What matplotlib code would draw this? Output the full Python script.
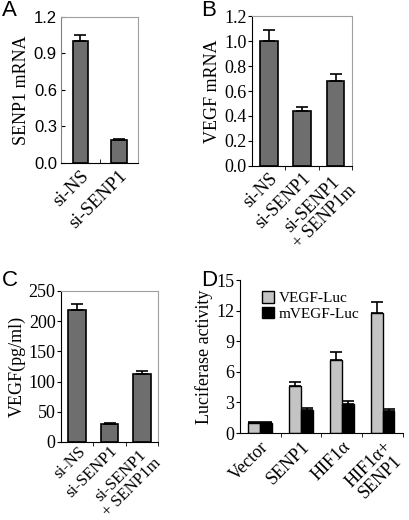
import numpy as np
import matplotlib
matplotlib.use("Agg")
import matplotlib.pyplot as plt

# panel A
a_labels = ["si-NS", "si-SENP1"]
a_vals = [1.0, 0.19]
a_err = [0.05, 0.01]

# panel B
b_labels = ["si-NS", "si-SENP1", "si-SENP1\n+ SENP1m"]
b_vals = [1.0, 0.44, 0.68]
b_err = [0.09, 0.03, 0.06]

# panel C
c_labels = ["si-NS", "si-SENP1", "si-SENP1\n+ SENP1m"]
c_vals = [219, 30, 112]
c_err = [9, 2, 5]

# panel D
d_labels = ["Vector", "SENP1", "HIF1α", "HIF1α+\nSENP1"]
d_vegf = [1.0, 4.6, 7.2, 11.8]
d_vegf_err = [0.1, 0.4, 0.7, 1.1]
d_mvegf = [1.0, 2.3, 2.8, 2.2]
d_mvegf_err = [0.1, 0.2, 0.3, 0.2]

plt.rcParams["font.family"] = "Liberation Serif"
bar_color = "#6e6e6e"
frame_gray = "#a0a0a0"
tick_fs = 13
xlab_fs = 13.5
ylab_fs = 13

fig = plt.figure(figsize=(4.1, 5.2), dpi=100)


def excel_frame(ax):
    ax.spines["top"].set_color(frame_gray)
    ax.spines["right"].set_color(frame_gray)
    ax.spines["left"].set_color("black")
    ax.spines["bottom"].set_color("black")
    ax.tick_params(axis="y", direction="out", length=3, labelsize=tick_fs, pad=1)
    ax.tick_params(axis="x", which="major", length=0, pad=3)
    ax.tick_params(axis="x", which="minor", direction="out", length=3)


def simple_bars(ax, labels, vals, err, width=0.5, fs=xlab_fs):
    x = np.arange(len(labels))
    ax.bar(x, vals, width=width, color=bar_color, edgecolor="black", linewidth=1.2, zorder=2)
    ax.errorbar(x, vals, yerr=[np.zeros(len(err)), err], fmt="none", ecolor="black",
                elinewidth=1.2, capsize=4, capthick=1.2, zorder=3)
    ax.set_xlim(-0.5, len(labels) - 0.5)
    ax.set_xticks(x)
    ax.set_xticklabels(labels, rotation=45, ha="right", rotation_mode="anchor",
                       linespacing=1.0, multialignment="center", fontsize=fs)


# A
axA = fig.add_axes([0.149, 0.6865, 0.188, 0.2815])
simple_bars(axA, a_labels, a_vals, a_err, width=0.4)
axA.set_ylim(0, 1.2)
axA.set_yticks(np.arange(0, 1.21, 0.3))
axA.set_yticklabels([f"{v:.1f}" for v in np.arange(0, 1.21, 0.3)],
                    family="Liberation Sans", fontsize=12)
for s in axA.spines.values():
    s.set_color(frame_gray)
axA.spines["bottom"].set_color("black")
axA.spines["left"].set_color("#808080")
axA.tick_params(axis="y", direction="in", length=3, pad=3)
axA.tick_params(axis="x", which="major", length=0, pad=3)
axA.set_xticks([0.5], minor=True)
axA.tick_params(axis="x", which="minor", direction="in", length=3)
axA.set_ylabel("SENP1 mRNA", fontsize=ylab_fs, labelpad=3)

# B
axB = fig.add_axes([0.615, 0.681, 0.244, 0.288])
simple_bars(axB, b_labels, b_vals, b_err, width=0.53, fs=13)
axB.set_ylim(0, 1.2)
axB.set_yticks(np.arange(0, 1.21, 0.2))
axB.set_yticklabels([f"{v:.1f}" for v in np.arange(0, 1.21, 0.2)])
axB.set_xticks([0.5, 1.5, 2.5], minor=True)
excel_frame(axB)
axB.set_ylabel("VEGF mRNA", fontsize=ylab_fs, labelpad=2)

# C
axC = fig.add_axes([0.149, 0.15, 0.2366, 0.2904])
simple_bars(axC, c_labels, c_vals, c_err, width=0.55, fs=12)
axC.set_ylim(0, 250)
axC.set_yticks(np.arange(0, 251, 50))
axC.set_xticks([0.5, 1.5, 2.5], minor=True)
excel_frame(axC)
axC.tick_params(axis="x", which="major", pad=1)
axC.set_ylabel("VEGF(pg/ml)", fontsize=ylab_fs, labelpad=2)

# D
axD = fig.add_axes([0.585, 0.1673, 0.398, 0.294])
xd = np.arange(len(d_labels))
w = 0.29
axD.bar(xd - w / 2, d_vegf, width=w, color="#c4c4c4", edgecolor="black",
        linewidth=1.0, label="VEGF-Luc", zorder=2)
axD.bar(xd + w / 2, d_mvegf, width=w, color="black", edgecolor="black",
        linewidth=1.0, label="mVEGF-Luc", zorder=2)
axD.errorbar(xd - w / 2, d_vegf, yerr=[np.zeros(4), d_vegf_err], fmt="none",
             ecolor="black", elinewidth=1.2, capsize=4, capthick=1.2, zorder=3)
axD.errorbar(xd + w / 2, d_mvegf, yerr=[np.zeros(4), d_mvegf_err], fmt="none",
             ecolor="black", elinewidth=1.2, capsize=4, capthick=1.2, zorder=3)
axD.set_xlim(-0.5, 3.5)
axD.set_ylim(0, 15)
axD.set_yticks(np.arange(0, 16, 3))
axD.set_xticks(xd)
axD.set_xticklabels(d_labels, rotation=45, ha="right", rotation_mode="anchor",
                    linespacing=1.0, multialignment="center", fontsize=13)
axD.set_xticks([0.5, 1.5, 2.5, 3.5], minor=True)
axD.spines["top"].set_visible(False)
axD.spines["right"].set_visible(False)
axD.tick_params(axis="y", direction="out", length=3, labelsize=tick_fs, pad=1)
axD.tick_params(axis="x", which="major", length=0, pad=4)
axD.tick_params(axis="x", which="minor", direction="out", length=3)
axD.set_ylabel("Luciferase activity", fontsize=ylab_fs, labelpad=2)
axD.legend(loc="upper left", bbox_to_anchor=(0.08, 0.99), frameon=False,
           fontsize=11, handlelength=0.8, handleheight=0.8, handletextpad=0.3,
           borderaxespad=0.2, labelspacing=0.1)

# panel letters
for letter, (px, py) in zip("ABCD", [(0.005, 0.98), (0.49, 0.98),
                                      (0.005, 0.46), (0.49, 0.46)]):
    fig.text(px, py, letter, family="Liberation Sans", fontsize=16, va="center")

fig.savefig("out.png", dpi=100)
